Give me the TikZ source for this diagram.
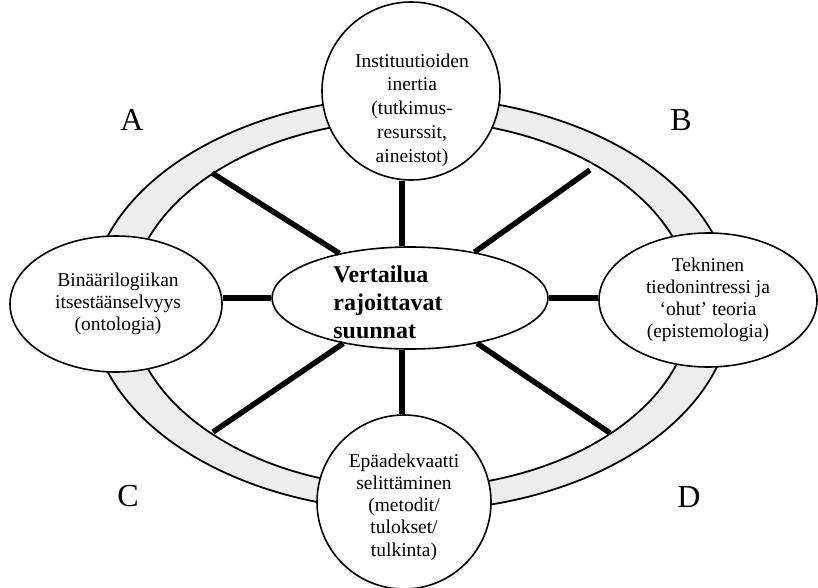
\documentclass[tikz,border=0pt]{standalone}
\usepackage{fontspec}
\setmainfont{Liberation Serif}
\usetikzlibrary{shapes.geometric}
\begin{document}
\begin{tikzpicture}[x=1pt,y=-1pt,
  shp/.style={draw=black,line width=1.6pt,fill=white,inner sep=0pt},
  txt/.style={align=center,inner sep=0pt,font=\fontsize{19.5}{21}\selectfont},
  spoke/.style={line width=5.5pt},
  ringline/.style={line width=1.8pt},
  corner/.style={inner sep=0pt,font=\fontsize{32}{32}\selectfont}]
\useasboundingbox (0,0) rectangle (818,588);
% ring
\fill[black!7,even odd rule] (411,304) ellipse [x radius=321pt,y radius=207pt]
  (411,304) ellipse [x radius=281pt,y radius=184pt];
\draw[ringline] (411,304) ellipse [x radius=321pt,y radius=207pt];
\draw[ringline] (411,304) ellipse [x radius=281pt,y radius=184pt];
% nodes
\node[shp,circle,minimum size=178pt] (top) at (411,91) {};
\node[shp,circle,minimum size=174pt] (bot) at (404,502) {};
\node[shp,ellipse,minimum width=212pt,minimum height=136pt] (left) at (116,304) {};
\node[shp,ellipse,minimum width=218pt,minimum height=134pt] (right) at (708,300) {};
\node[shp,ellipse,minimum width=276pt,minimum height=102pt] (mid) at (410,298) {};
% texts
\node[txt,font=\fontsize{19.5}{23.8}\selectfont] (toptxt) at (412,110)
  {Instituutioiden\\inertia\\(tutkimus-\\resurssit,\\aineistot)};
\node[txt,font=\fontsize{19.5}{22.3}\selectfont] (bottxt) at (404,507)
  {Epäadekvaatti\\selittäminen\\(metodit/\\tulokset/\\tulkinta)};
\node[txt,font=\fontsize{19.5}{22}\selectfont] (lefttxt) at (118,304)
  {Binäärilogiikan\\itsestäänselvyys\\(ontologia)};
\node[txt,font=\fontsize{19.5}{22}\selectfont] (righttxt) at (708,300)
  {Tekninen\\tiedonintressi ja\\‘ohut’ teoria\\(epistemologia)};
\node[inner sep=0pt,align=left,font=\fontsize{24}{28}\selectfont\bfseries] (midtxt) at (388,302)
  {Vertailua\\rajoittavat\\suunnat};
% corner letters
\node[corner] (A) at (132,120) {A};
\node[corner] (B) at (681,120) {B};
\node[corner] (C) at (128,496) {C};
\node[corner] (D) at (689,497) {D};
% spokes
\coordinate (ul) at (212,173);
\coordinate (ur) at (590,170);
\coordinate (ll) at (213,432);
\coordinate (lr) at (610,433);
\draw[spoke] (ul) -- (mid);
\draw[spoke] (ur) -- (mid);
\draw[spoke] (ll) -- (mid);
\draw[spoke] (lr) -- (mid);
\draw[spoke] ([xshift=-8pt]mid.north) -- ([xshift=-8pt]mid.north |- top.south);
\draw[spoke] ([xshift=-8pt]mid.south) -- ([xshift=-8pt]mid.south |- bot.north);
\draw[spoke] (mid.west) -- (mid.west -| left.east);
\draw[spoke] (mid.east) -- (mid.east -| right.west);
\end{tikzpicture}
\end{document}
